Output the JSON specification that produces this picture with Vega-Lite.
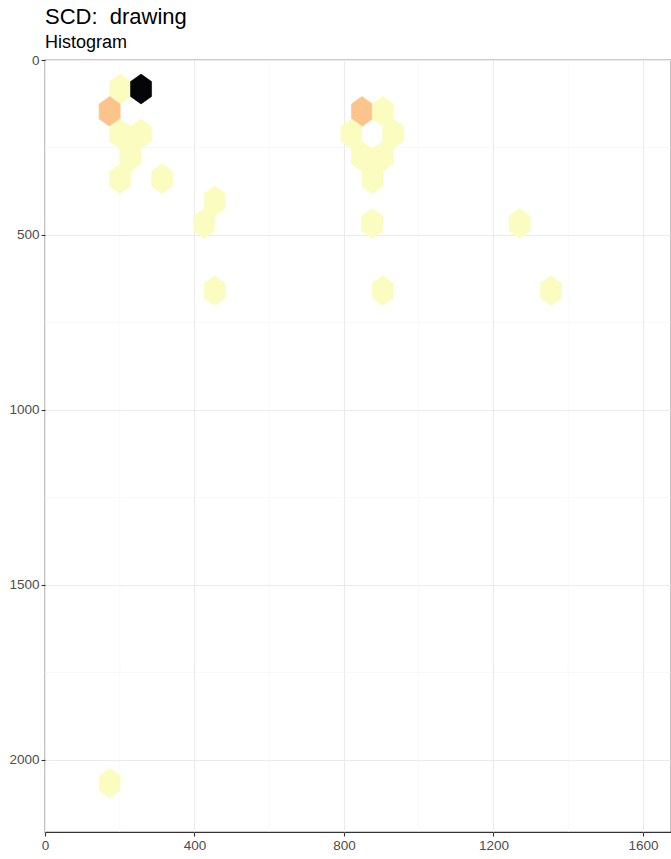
{
  "$schema": "https://vega.github.io/schema/vega-lite/v6.json",
  "width": 626,
  "height": 772,
  "autosize": {"type": "none"},
  "padding": {"left": 45, "top": 60, "right": 0, "bottom": 27},
  "background": "white",
  "title": {
    "text": "SCD:\u00a0 drawing",
    "subtitle": "Histogram",
    "anchor": "start",
    "frame": "group",
    "font": "Liberation Sans",
    "fontSize": 22,
    "fontWeight": "normal",
    "color": "#000000",
    "subtitleFont": "Liberation Sans",
    "subtitleFontSize": 18,
    "subtitleColor": "#000000",
    "subtitlePadding": 5,
    "offset": 0
  },
  "config": {
    "view": {"stroke": "#333333", "strokeWidth": 1.2},
    "axis": {
      "title": null,
      "domain": false,
      "grid": true,
      "gridColor": "#EBEBEB",
      "gridWidth": 1.1,
      "tickColor": "#333333",
      "tickSize": 4,
      "tickWidth": 1.1,
      "labelColor": "#4D4D4D",
      "labelFont": "Liberation Sans",
      "labelFontSize": 13.5,
      "labelPadding": 2,
      "labelFlush": false,
      "format": "d"
    }
  },
  "layer": [
    {
      "data": {"values": [{"gx": 200}, {"gx": 600}, {"gx": 1000}, {"gx": 1400}]},
      "mark": {"type": "rule", "color": "#F3F3F3", "strokeWidth": 0.6},
      "encoding": {
        "x": {"field": "gx", "type": "quantitative", "scale": {"domain": [0, 1675], "nice": false, "zero": false},
              "axis": {"values": [0, 400, 800, 1200, 1600]}}
      }
    },
    {
      "data": {"values": [{"gy": 250}, {"gy": 750}, {"gy": 1250}, {"gy": 1750}]},
      "mark": {"type": "rule", "color": "#F3F3F3", "strokeWidth": 0.6},
      "encoding": {
        "y": {"field": "gy", "type": "quantitative", "scale": {"domain": [0, 2206], "reverse": true, "nice": false, "zero": false},
              "axis": {"values": [0, 500, 1000, 1500, 2000]}}
      }
    },
    {
      "data": {
        "values": [
          {"x": 201, "y": 83, "count": 1},
          {"x": 257, "y": 83, "count": 10},
          {"x": 173, "y": 147, "count": 2},
          {"x": 848, "y": 147, "count": 2},
          {"x": 904, "y": 147, "count": 1},
          {"x": 201, "y": 211, "count": 1},
          {"x": 257, "y": 211, "count": 1},
          {"x": 820, "y": 211, "count": 1},
          {"x": 932, "y": 211, "count": 1},
          {"x": 229, "y": 275, "count": 1},
          {"x": 848, "y": 275, "count": 1},
          {"x": 904, "y": 275, "count": 1},
          {"x": 201, "y": 339, "count": 1},
          {"x": 313, "y": 339, "count": 1},
          {"x": 876, "y": 339, "count": 1},
          {"x": 454, "y": 403, "count": 1},
          {"x": 426, "y": 467, "count": 1},
          {"x": 876, "y": 467, "count": 1},
          {"x": 1270, "y": 467, "count": 1},
          {"x": 454, "y": 659, "count": 1},
          {"x": 904, "y": 659, "count": 1},
          {"x": 1354, "y": 659, "count": 1},
          {"x": 173, "y": 2067, "count": 1}
        ]
      },
      "mark": {
        "type": "point",
        "shape": "M0,-1L0.703,-0.5L0.703,0.5L0,1L-0.703,0.5L-0.703,-0.5Z",
        "filled": true,
        "size": 892,
        "opacity": 1,
        "strokeWidth": 0.6
      },
      "encoding": {
        "x": {"field": "x", "type": "quantitative", "scale": {"domain": [0, 1675], "nice": false, "zero": false}},
        "y": {"field": "y", "type": "quantitative", "scale": {"domain": [0, 2206], "reverse": true, "nice": false, "zero": false}},
        "fill": {"field": "count", "type": "quantitative",
                 "scale": {"domain": [1, 2, 10], "range": ["#FBFCBF", "#FCC48A", "#050509"]}, "legend": null},
        "stroke": {"field": "count", "type": "quantitative",
                   "scale": {"domain": [1, 2, 10], "range": ["#FBFCBF", "#FCC48A", "#050509"]}, "legend": null}
      }
    }
  ]
}
